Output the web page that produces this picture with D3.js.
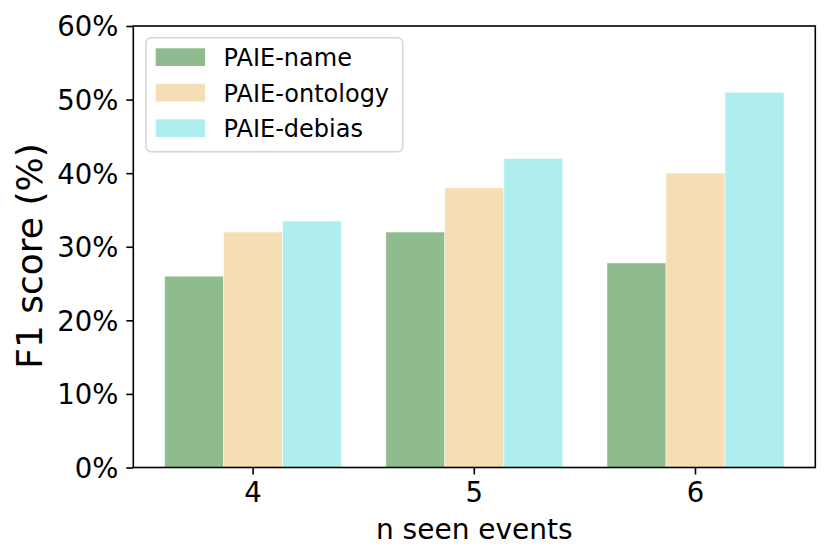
<!DOCTYPE html>
<html>
<head>
<meta charset="utf-8">
<script src="https://cdn.jsdelivr.net/npm/d3@7"></script>
<style>
  body { margin: 0; background: #fff; }
  svg { font-family: "DejaVu Sans", sans-serif; }
  .axis path, .axis line { stroke: #000; stroke-width: 1.6; }
  .axis text { font-family: "DejaVu Sans", sans-serif; font-size: 27.5px; fill: #000; }
</style>
</head>
<body>
<svg width="830" height="560"></svg>
<script>
// data
var categories = ["4", "5", "6"];
var seriesNames = ["PAIE-name", "PAIE-ontology", "PAIE-debias"];
var nameScores = [26, 32, 27.8];
var ontologyScores = [32, 38, 40];
var debiasScores = [33.5, 42, 51];
var yTicks = [0, 10, 20, 30, 40, 50, 60];

var colors = ["#8fbc8f", "#f5deb3", "#afeeee"];
var allScores = [nameScores, ontologyScores, debiasScores];

drawChart();

function drawChart() {
  var svg = d3.select("svg");
  var pLeft = 133.3, pRight = 815.3, pTop = 26, pBottom = 467.5;

  var x0 = d3.scaleBand()
    .domain(categories)
    .range([pLeft, pRight])
    .paddingInner(0.2)
    .paddingOuter(0.1417);

  var x1 = d3.scaleBand()
    .domain(seriesNames)
    .range([0, x0.bandwidth()]);

  var y = d3.scaleLinear()
    .domain([0, 60])
    .range([pBottom, pTop]);

  // bars
  var groups = svg.selectAll(".series")
    .data(seriesNames)
    .enter().append("g")
      .attr("class", "series")
      .style("fill", function(d, i) { return colors[i]; });

  groups.selectAll("rect")
    .data(function(d, i) {
      return categories.map(function(c, k) { return {cat: c, name: d, v: allScores[i][k]}; });
    })
    .enter().append("rect")
      .attr("x", function(d) { return x0(d.cat) + x1(d.name); })
      .attr("y", function(d) { return y(d.v); })
      .attr("width", x1.bandwidth())
      .attr("height", function(d) { return y(0) - y(d.v); })
      .attr("stroke", "#fff")
      .attr("stroke-opacity", 0.6)
      .attr("stroke-width", 0.8);

  // axes
  var xAxis = svg.append("g")
    .attr("class", "axis")
    .attr("transform", "translate(0," + pBottom + ")")
    .call(d3.axisBottom(x0).tickSize(7).tickSizeOuter(0));
  xAxis.select(".domain").remove();
  xAxis.selectAll("text").attr("y", 34.2).attr("dy", 0);

  var yAxis = svg.append("g")
    .attr("class", "axis")
    .attr("transform", "translate(" + pLeft + ",0)")
    .call(d3.axisLeft(y).tickValues(yTicks).tickFormat(function(d) { return d + "%"; })
      .tickSize(7).tickPadding(8).tickSizeOuter(0));
  yAxis.select(".domain").remove();
  yAxis.selectAll("text").attr("dy", "0.36em");

  // frame
  svg.append("rect")
    .attr("x", pLeft)
    .attr("y", pTop)
    .attr("width", pRight - pLeft)
    .attr("height", pBottom - pTop)
    .attr("fill", "none")
    .attr("stroke", "#000")
    .attr("stroke-width", 1.6);

  // axis labels
  svg.append("text")
    .attr("x", (pLeft + pRight) / 2)
    .attr("y", 539.3)
    .attr("text-anchor", "middle")
    .style("font-size", "28px")
    .text("n seen events");

  svg.append("text")
    .attr("transform", "translate(41.5,256) rotate(-90)")
    .attr("text-anchor", "middle")
    .style("font-size", "36px")
    .text("F1 score (%)");

  // legend
  var legend = svg.append("g").attr("class", "legend");

  legend.append("rect")
    .attr("x", 146)
    .attr("y", 37.7)
    .attr("width", 256.7)
    .attr("height", 114)
    .attr("rx", 5)
    .attr("fill", "#fff")
    .attr("fill-opacity", 0.8)
    .attr("stroke", "#d4d4d4")
    .attr("stroke-width", 1.5);

  var items = legend.selectAll(".item")
    .data(seriesNames)
    .enter().append("g")
      .attr("class", "item")
      .attr("transform", function(d, i) { return "translate(0," + (66 + i * 35.5) + ")"; });

  items.append("rect")
    .attr("x", 155.7)
    .attr("y", -17.7)
    .attr("width", 49.3)
    .attr("height", 17.7)
    .attr("fill", function(d, i) { return colors[i]; });

  items.append("text")
    .attr("x", 223.6)
    .attr("y", 0)
    .style("font-size", "24px")
    .text(function(d) { return d; });
}
</script>
</body>
</html>
